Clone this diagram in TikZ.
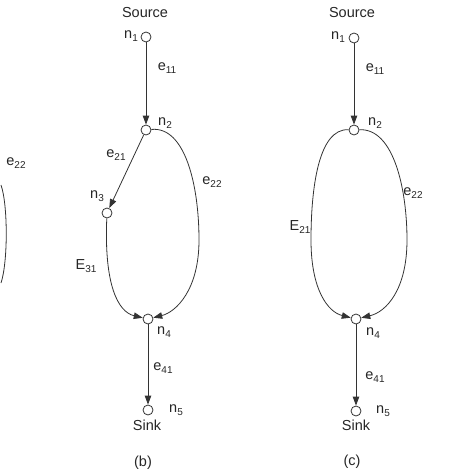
\documentclass[tikz,border=0pt]{standalone}
\usepackage{fontspec}
\setmainfont{Liberation Sans}
\usetikzlibrary{arrows.meta,positioning}
\definecolor{edgegray}{HTML}{333333}
\newcommand{\lab}[2]{#1\raisebox{-0.35ex}{\fontsize{10}{10}\selectfont #2}}

\begin{document}
\begin{tikzpicture}[x=1pt, y=-1pt, font=\fontsize{14.5}{16}\selectfont]
  \tikzset{vertex/.style={draw=edgegray, circle, fill=white, line width=0.8pt, minimum size=10pt, inner sep=0pt},
    txt/.style={inner sep=0pt, text=black!85},
    flow/.style={-{Triangle[length=9pt, width=6.5pt]}, line width=0.8pt, edgegray}}
  \useasboundingbox (0,0) rectangle (474,474);
  % panel (a), cut off at the left edge
  \node[txt] (ea22) at (16,163) {\lab{e}{22}};
  \draw[line width=0.8pt, edgegray] (1,185) .. controls (8,205) and (8,262) .. (1,283);
  % panel (b)
  \node[txt] (srcb) at (145,13) {Source};
  \node[vertex] (n1b) at (146,37) {};
  \node[vertex] (n2b) at (146,130) {};
  \node[vertex] (n3b) at (107,213) {};
  \node[vertex] (n4b) at (148,319) {};
  \node[vertex] (n5b) at (148,410) {};
  \node[txt] (l1b) at (131,36) {\lab{n}{1}};
  \node[txt] (l2b) at (165,123) {\lab{n}{2}};
  \node[txt] (l3b) at (97,196) {\lab{n}{3}};
  \node[txt] (l4b) at (164,332) {\lab{n}{4}};
  \node[txt] (l5b) at (176,410) {\lab{n}{5}};
  \node[txt] (e11b) at (167,68) {\lab{e}{11}};
  \node[txt] (e21b) at (116,155) {\lab{e}{21}};
  \node[txt] (e22b) at (212,182) {\lab{e}{22}};
  \node[txt] (E31b) at (86,266) {\lab{E}{31}};
  \node[txt] (e41b) at (163,368) {\lab{e}{41}};
  \node[txt] (sinkb) at (147,425) {Sink};
  \node[txt] (capb) at (143,463) {(b)};
  \draw[flow] (n1b) -- (n2b);
  \draw[flow] (n2b) -- (n3b);
  \draw[flow] (n2b) .. controls (185,126) and (199,185) .. (199,240) .. controls (199,290) and (176,312) .. (n4b);
  \draw[flow] (n3b) .. controls (104,285) and (118,312) .. (n4b);
  \draw[flow] (n4b) -- (n5b);
  % panel (c)
  \node[txt] (srcc) at (352,13) {Source};
  \node[vertex] (n1c) at (354,38) {};
  \node[vertex] (n2c) at (354,130) {};
  \node[vertex] (n4c) at (356,319) {};
  \node[vertex] (n5c) at (356,411) {};
  \node[txt] (l1c) at (338,37) {\lab{n}{1}};
  \node[txt] (l2c) at (375,123) {\lab{n}{2}};
  \node[txt] (l4c) at (373,333) {\lab{n}{4}};
  \node[txt] (l5c) at (383,411) {\lab{n}{5}};
  \node[txt] (e11c) at (375,69) {\lab{e}{11}};
  \node[txt] (e22c) at (413,193) {\lab{e}{22}};
  \node[txt] (E21c) at (300,227) {\lab{E}{21}};
  \node[txt] (e41c) at (375,377) {\lab{e}{41}};
  \node[txt] (sinkc) at (356,425) {Sink};
  \node[txt] (capc) at (352,462) {(c)};
  \draw[flow] (n1c) -- (n2c);
  \draw[flow] (n2c) .. controls (394,128) and (407,190) .. (407,240) .. controls (407,290) and (386,312) .. (n4c);
  \draw[flow] (n2c) .. controls (318,128) and (311,190) .. (311,240) .. controls (311,290) and (328,312) .. (n4c);
  \draw[flow] (n4c) -- (n5c);
\end{tikzpicture}
\end{document}
